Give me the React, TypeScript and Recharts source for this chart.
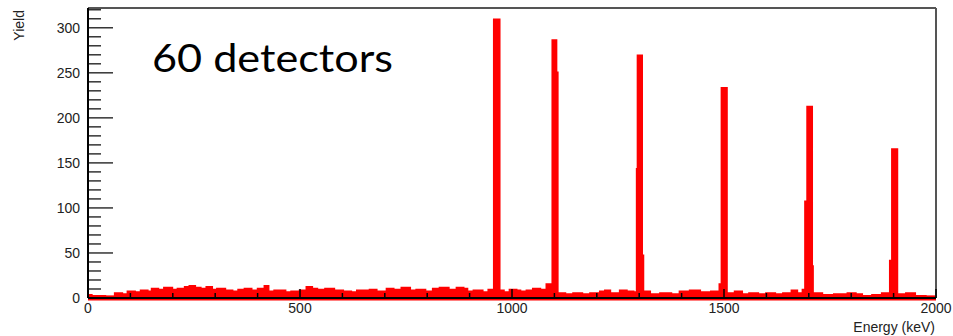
import { ComposedChart, Area, XAxis, YAxis, ReferenceLine } from 'recharts';

// histogram step edges (keV) and counts of the bin starting at that edge
const binStart = [
  0, 8, 24, 40, 64, 80, 94, 110, 125, 140, 151, 165, 180, 198, 212, 229, 240, 252, 265, 280,
  292, 305, 323, 340, 355, 370, 385, 401, 417, 425, 440, 465, 480, 500, 516, 528, 540, 560, 580, 601,
  620, 635, 649, 665, 680, 705, 720, 740, 759, 775, 795, 814, 830, 850, 870, 885, 894, 910, 930, 945,
  958, 970, 980, 995, 1010, 1019, 1035, 1050, 1066, 1082, 1096, 1104, 1107, 1125, 1145, 1165, 1185, 1208, 1220, 1231,
  1255, 1270, 1286, 1295, 1297, 1306, 1309, 1325, 1350, 1375, 1396, 1420, 1443, 1470, 1490, 1495, 1506, 1526, 1542, 1560,
  1580, 1600, 1620, 1640, 1660, 1672, 1686, 1692, 1697, 1707, 1709, 1731, 1760, 1792, 1810, 1825, 1850, 1873, 1892, 1897,
  1908, 1930, 1950, 1975, 2000,
];
const binCounts = [
  3, 2, 2, 1, 5, 4, 7, 6, 8, 7, 10, 9, 11, 9, 10, 12, 13, 11, 10, 12,
  9, 10, 8, 7, 9, 10, 8, 10, 13, 7, 8, 6, 7, 8, 12, 10, 9, 10, 8, 7,
  6, 8, 8, 9, 7, 10, 9, 11, 8, 9, 7, 10, 11, 9, 11, 10, 7, 8, 6, 9,
  309, 8, 6, 9, 8, 7, 8, 10, 9, 15, 286, 250, 5, 4, 5, 4, 5, 7, 8, 5,
  8, 7, 6, 143, 269, 47, 7, 4, 5, 4, 7, 8, 6, 7, 15, 233, 5, 7, 4, 5,
  4, 5, 4, 5, 8, 5, 9, 107, 212, 35, 5, 3, 4, 5, 4, 2, 3, 5, 41, 165,
  4, 5, 2, 1, 1,
];

const xTicks = [0, 100, 200, 300, 400, 500, 600, 700, 800, 900, 1000, 1100, 1200, 1300, 1400, 1500, 1600, 1700, 1800, 1900, 2000];
const yTicks = [0, 10, 20, 30, 40, 50, 60, 70, 80, 90, 100, 110, 120, 130, 140, 150, 160, 170, 180, 190, 200, 210, 220, 230, 240, 250, 260, 270, 280, 290, 300, 310, 320];

const data = binStart.map((e, i) => ({ e, y: binCounts[i] }));

const tickFont = '"Liberation Sans", Arial, sans-serif';

const XTick = (props: any) => {
  const { x, y, payload } = props;
  const major = payload.value % 500 === 0;
  return (
    <g>
      <line x1={x} x2={x} y1={y} y2={y - (major ? 9 : 5)} stroke="#000" strokeWidth={1.5} />
      {major && (
        <text x={x} y={y + 15} textAnchor="middle" fontSize={14} fontFamily={tickFont} fill="#222">
          {payload.value}
        </text>
      )}
    </g>
  );
};

const YTick = (props: any) => {
  const { x, y, payload } = props;
  const major = payload.value % 50 === 0;
  return (
    <g>
      <line x1={x} x2={x + (major ? 25 : 13)} y1={y} y2={y} stroke="#000" strokeWidth={1.2} />
      {major && (
        <text x={x - 8} y={y} dy="0.35em" textAnchor="end" fontSize={14} fontFamily={tickFont} fill="#222">
          {payload.value}
        </text>
      )}
    </g>
  );
};

export default function App() {
  return (
    <div style={{ position: 'absolute', left: 0, top: 0, width: 953, height: 336, background: '#fff' }}>
      <ComposedChart width={953} height={336} data={data} margin={{ top: 8, right: 17, bottom: 0, left: 0 }}>
        <ReferenceLine y={0} stroke="#ff0000" strokeWidth={5} />
        <Area
          dataKey="y"
          type="stepAfter"
          fill="#ff0000"
          fillOpacity={1}
          stroke="#ff0000"
          strokeWidth={2.5}
          dot={false}
          activeDot={false}
          isAnimationActive={false}
        />
        <ReferenceLine y={322} stroke="#555" strokeWidth={2} />
        <ReferenceLine x={2000} stroke="#555" strokeWidth={2} />
        <XAxis
          dataKey="e"
          type="number"
          domain={[0, 2000]}
          ticks={xTicks}
          interval={0}
          height={38}
          tickSize={0}
          tickMargin={0}
          tick={<XTick />}
          axisLine={{ stroke: '#000', strokeWidth: 2 }}
          allowDataOverflow
        />
        <YAxis
          type="number"
          domain={[0, 322]}
          ticks={yTicks}
          interval={0}
          width={88}
          tickSize={0}
          tickMargin={0}
          tick={<YTick />}
          axisLine={{ stroke: '#000', strokeWidth: 2 }}
          allowDataOverflow
        />
      </ComposedChart>
      <svg width={953} height={336} style={{ position: 'absolute', left: 0, top: 0, pointerEvents: 'none' }}>
        <text
          x={152}
          y={72}
          fontSize={39}
          fontFamily="Lato, sans-serif"
          fill="#000"
          textLength={241}
          lengthAdjust="spacingAndGlyphs"
        >
          60 detectors
        </text>
        <text x={935} y={332} textAnchor="end" fontSize={14} fontFamily={tickFont} fill="#222">
          Energy (keV)
        </text>
        <text
          x={24}
          y={10}
          textAnchor="end"
          fontSize={14}
          fontFamily={tickFont}
          fill="#222"
          transform="rotate(-90 24 10)"
        >
          Yield
        </text>
      </svg>
    </div>
  );
}
